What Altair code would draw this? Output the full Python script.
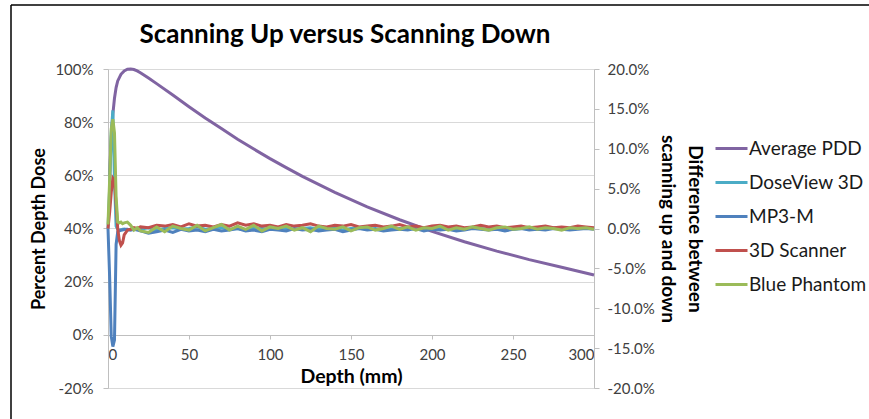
import altair as alt
import pandas as pd

FONT = "Lato"

series_names = ["Average PDD", "DoseView 3D", "MP3-M", "3D Scanner", "Blue Phantom"]
series_colors = ["#8064A2", "#4BACC6", "#4F81BD", "#C0504D", "#9BBB59"]

# Average PDD (percent), left axis
pdd_depth = [1, 2, 3, 4, 5, 6, 8, 10, 12, 14, 16, 18, 20, 25, 30, 40, 50, 60, 70, 80,
             90, 100, 110, 120, 140, 160, 180, 200, 220, 240, 260, 280, 300]
pdd_values = [60, 74, 83, 89, 93, 95.5, 98, 99.3, 99.9, 100, 99.8, 99.3, 98.6, 96.6, 94.5,
              90.2, 85.8, 81.6, 77.6, 73.6, 69.9, 66.3, 62.9, 59.6, 53.6, 48.1, 43.3, 38.9,
              35.0, 31.5, 28.3, 25.4, 22.5]

# Difference between scanning up and down (percent), right axis
diff_depth = [0, 1, 2, 3, 4, 5, 6, 7, 8, 9, 10, 12, 14, 16, 18,
              20, 25, 30, 35, 40, 45, 50, 55, 60, 65,
              70, 75, 80, 85, 90, 95, 100, 105, 110, 115,
              120, 125, 130, 135, 140, 145, 150, 155, 160, 165,
              170, 175, 180, 185, 190, 195, 200, 205, 210, 215,
              220, 225, 230, 235, 240, 245, 250, 255, 260, 265,
              270, 275, 280, 285, 290, 295, 300]

doseview = [0.0, 5.0, 12.0, 14.8, 6.0, 0.3, -0.1, -0.2, -0.2, -0.1, -0.1, -0.2, -0.1, -0.1, 0.0,
            -0.1, 0.1, -0.2, 0.0, 0.1, -0.1, 0.0, 0.2, -0.1, 0.0,
            0.1, -0.1, 0.0, -0.2, 0.1, 0.0, -0.1, 0.1, 0.0, -0.1,
            0.0, 0.1, -0.1, 0.0, 0.1, -0.2, 0.0, 0.1, -0.1, 0.0,
            -0.2, -0.1, 0.0, 0.1, -0.1, -0.1, 0.0, 0.1, -0.1, -0.2,
            0.0, 0.1, 0.0, -0.1, 0.1, 0.0, -0.1, 0.0, 0.1, -0.1,
            0.0, 0.1, 0.0, -0.1, 0.0, 0.1, 0.0]

mp3m = [0.0, -6.0, -13.5, -14.8, -14.0, -2.0, -0.4, -0.3, -0.2, -0.2, -0.1, -0.1, -0.2, -0.1, -0.2,
        -0.3, -0.6, -0.4, -0.2, -0.5, -0.1, -0.3, -0.2, -0.4, -0.1,
        -0.3, -0.2, 0.0, -0.3, -0.2, -0.4, -0.1, -0.2, -0.3, 0.0,
        -0.2, -0.1, -0.3, -0.2, -0.1, -0.4, -0.2, 0.0, -0.2, -0.1,
        -0.3, -0.2, -0.1, -0.2, 0.0, -0.3, -0.1, -0.2, -0.1, -0.3,
        -0.2, 0.0, -0.1, -0.2, -0.1, -0.3, -0.1, 0.0, -0.2, -0.1,
        -0.2, 0.0, -0.1, -0.2, -0.1, 0.0, -0.1]

scanner3d = [0.0, 2.0, 4.5, 6.3, 6.0, 3.0, 0.0, -1.5, -2.1, -1.8, -0.8, -0.2, -0.1, 0.1, 0.0,
             0.2, 0.1, 0.4, 0.3, 0.5, 0.2, 0.6, 0.3, 0.4, 0.2,
             0.5, 0.3, 0.7, 0.4, 0.6, 0.3, 0.4, 0.2, 0.5, 0.3,
             0.4, 0.6, 0.3, 0.2, 0.4, 0.3, 0.5, 0.2, 0.3, 0.4,
             0.2, 0.3, 0.5, 0.2, 0.3, 0.1, 0.3, 0.4, 0.2, 0.3,
             0.1, 0.2, 0.4, 0.2, 0.3, 0.1, 0.2, 0.3, 0.1, 0.2,
             0.3, 0.1, 0.2, 0.1, 0.3, 0.2, 0.1]

bluephantom = [0.5, 6.0, 12.5, 13.7, 12.0, 4.0, 0.8, 0.7, 0.8, 0.6, 0.7, 0.8, 0.4, -0.2, 0.1,
               -0.3, -0.5, 0.2, -0.4, 0.3, 0.0, -0.2, 0.4, -0.3, 0.1,
               0.5, -0.2, 0.3, -0.1, 0.4, -0.3, 0.2, 0.0, 0.3, -0.2,
               0.1, -0.4, 0.3, 0.0, -0.1, 0.2, -0.3, 0.1, 0.2, -0.2,
               0.0, 0.3, -0.1, 0.2, -0.2, 0.1, 0.0, 0.3, -0.2, 0.1,
               -0.1, 0.2, 0.0, -0.2, 0.1, 0.2, -0.1, 0.0, 0.2, -0.1,
               0.1, 0.0, -0.2, 0.1, 0.0, 0.1, -0.1]

x_ticks = [0, 50, 100, 150, 200, 250, 300]
left_ticks = [-0.2, 0.0, 0.2, 0.4, 0.6, 0.8, 1.0]
right_ticks = [-0.2, -0.15, -0.1, -0.05, 0.0, 0.05, 0.1, 0.15, 0.2]

pdd_df = pd.DataFrame({"depth": pdd_depth,
                       "value": [v / 100 for v in pdd_values],
                       "series": "Average PDD"})
rows = []
for name, vals in [("DoseView 3D", doseview), ("MP3-M", mp3m),
                   ("3D Scanner", scanner3d), ("Blue Phantom", bluephantom)]:
    for d, v in zip(diff_depth, vals):
        rows.append({"depth": d, "value": v / 100, "series": name})
diff_df = pd.DataFrame(rows)

HYPHEN = "replace(datum.label, '\u2212', '-')"

legend = alt.Legend(
    title=None, orient="none", legendX=606, legendY=62, padding=0,
    symbolType="stroke", symbolSize=1024, symbolStrokeWidth=3,
    labelFont=FONT, labelFontSize=19, labelColor="#1a1a1a", labelOffset=0,
    rowPadding=6, labelLimit=300,
)
color = alt.Color("series:N",
                  scale=alt.Scale(domain=series_names, range=series_colors),
                  legend=legend)

x_enc = alt.X("depth:Q",
              scale=alt.Scale(domain=[0, 300], nice=False, zero=False),
              axis=alt.Axis(values=x_ticks, offset=-53, title="Depth (mm)",
                            format="d", grid=False, domainColor="#BFBFBF",
                            tickColor="#BFBFBF", tickSize=4, labelPadding=8,
                            titlePadding=5, labelFont=FONT, labelFontSize=15,
                            labelColor="#404040", titleFont=FONT, titleFontSize=19.5,
                            titleFontWeight="bold", titleColor="#000000"))

left = alt.Chart(pdd_df).mark_line(strokeWidth=3).encode(
    x=x_enc,
    y=alt.Y("value:Q",
            scale=alt.Scale(domain=[-0.2, 1.0], nice=False, zero=False),
            axis=alt.Axis(values=left_ticks, format=".0%", labelExpr=HYPHEN,
                          title="Percent Depth Dose",
                          grid=True, gridColor="#D9D9D9", domainColor="#BFBFBF",
                          tickColor="#BFBFBF", tickSize=5, labelPadding=10,
                          titlePadding=6, labelFont=FONT, labelFontSize=15,
                          labelColor="#404040", titleFont=FONT, titleFontSize=18,
                          titleFontWeight="bold", titleColor="#000000")),
    color=color,
)

right = alt.Chart(diff_df).mark_line(strokeWidth=3).encode(
    x=x_enc,
    y=alt.Y("value:Q",
            scale=alt.Scale(domain=[-0.2, 0.2], nice=False, zero=False),
            axis=alt.Axis(orient="right", values=right_ticks, format=".1%",
                          labelExpr=HYPHEN,
                          title=["Difference between", "scanning up and down"],
                          titleAngle=90, titleLineHeight=27,
                          grid=False, domainColor="#BFBFBF",
                          tickColor="#BFBFBF", tickSize=5, labelPadding=8,
                          titlePadding=3, labelFont=FONT, labelFontSize=15,
                          labelColor="#404040", titleFont=FONT, titleFontSize=19,
                          titleFontWeight="bold", titleColor="#000000")),
    color=color,
)

frame_src = pd.DataFrame({"k": [0]})
frame_left = alt.Chart(frame_src).mark_rule(color="#000000", strokeWidth=1.5).encode(
    x=alt.value(-97), y=alt.value(-64), y2=alt.value(360))
frame_top = alt.Chart(frame_src).mark_rule(color="#000000", strokeWidth=1.5).encode(
    x=alt.value(-97), x2=alt.value(770), y=alt.value(-64))

chart = alt.layer(left, right, frame_left, frame_top).resolve_scale(
    y="independent"
).properties(
    width=486, height=319,
    padding={"left": 108, "top": 69, "right": 275, "bottom": 31},
    autosize=alt.AutoSizeParams(type="none"),
    title=alt.TitleParams("Scanning Up versus Scanning Down", font=FONT,
                          fontSize=26, fontWeight="bold", color="#000000",
                          anchor="middle", offset=-44, dx=-6),
).configure_view(stroke=None).configure(background="#FFFFFF")

chart.save("out.html", embed_options={"renderer": "svg", "actions": False})
